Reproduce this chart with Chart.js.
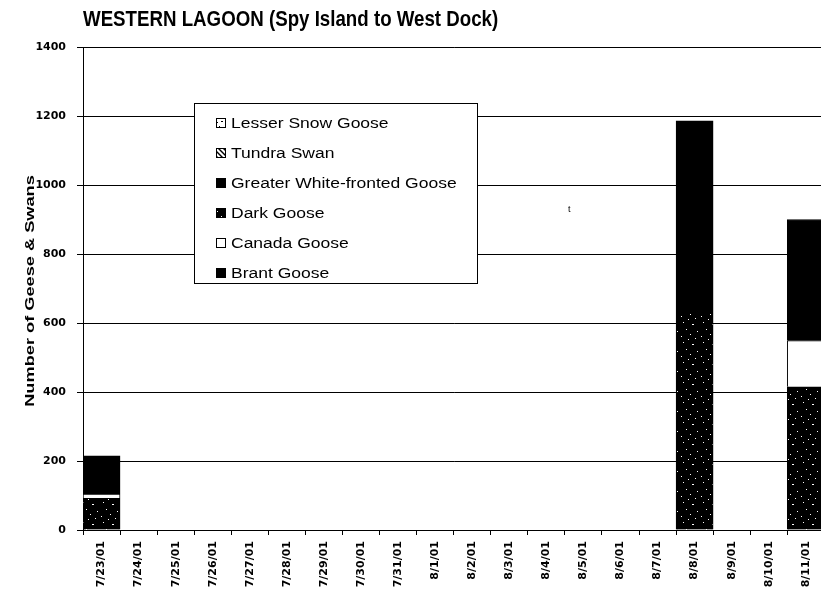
<!DOCTYPE html>
<html>
<head>
<meta charset="utf-8">
<title>Western Lagoon</title>
<script src="https://cdn.jsdelivr.net/npm/chart.js@4/dist/chart.umd.min.js"></script>
<style>
  html, body { margin: 0; padding: 0; background: #fff; overflow: hidden; }
  .wrap { position: relative; width: 825px; height: 604px; }
</style>
</head>
<body>
<div class="wrap"><canvas id="geese"></canvas></div>
<script>
// survey dates along the category axis
var dates = ['7/23/01','7/24/01','7/25/01','7/26/01','7/27/01','7/28/01','7/29/01','7/30/01','7/31/01','8/1/01',
             '8/2/01','8/3/01','8/4/01','8/5/01','8/6/01','8/7/01','8/8/01','8/9/01','8/10/01','8/11/01'];

// counts per species (stacked bottom to top in this order)
var lesserSnow   = [0,0,0,0,0,0,0,0,0,0,0,0,0,0,0,0,0,0,0,0];
var tundraSwan   = [0,0,0,0,0,0,0,0,0,0,0,0,0,0,0,0,0,0,0,0];
var whiteFronted = [0,0,0,0,0,0,0,0,0,0,0,0,0,0,0,0,0,0,0,0];
var darkGoose    = [92,0,0,0,0,0,0,0,0,0,0,0,0,0,0,0,628,0,0,415];
var canadaGoose  = [12,0,0,0,0,0,0,0,0,0,0,0,0,0,0,0,0,0,0,134];
var brantGoose   = [111,0,0,0,0,0,0,0,0,0,0,0,0,0,0,0,558,0,0,351];

var yTicks = [0, 200, 400, 600, 800, 1000, 1200, 1400];

function makePattern(bg, fg, dots, lines){
      var c = document.createElement('canvas');
      c.width = 20; c.height = 20;
      var g = c.getContext('2d');
      g.fillStyle = bg;
      g.fillRect(0, 0, 20, 20);
      g.fillStyle = fg;
      (dots || []).forEach(function(d){ g.fillRect(d[0], d[1], d[2] || 1, 1); });
      if(lines){
            g.strokeStyle = fg;
            g.lineWidth = 1.5;
            for(var k = -20; k < 40; k += 5){
                  g.beginPath(); g.moveTo(k, 0); g.lineTo(k + 20, 20); g.stroke();
            }
      }
      return g.createPattern(c, 'repeat');
}

// black with a few white flecks
var speckle = makePattern('#000', '#fff', [[3,2],[12,4,2],[17,11],[6,9],[1,16],[10,14],[15,18],[8,19]]);
var snowDots = makePattern('#fff', '#000', [[1,1,2],[5,3],[9,1],[13,4,2],[17,2],[3,7],[7,9,2],[11,7],
      [15,9],[19,6],[1,12],[5,14,2],[9,12],[13,15],[17,13,2],[3,18],[11,18],[15,19]]);
var hatch = makePattern('#fff', '#000', null, true);

var canvas = document.getElementById('geese');

var boxLegend = {
      id: 'boxLegend',
      afterDraw: function(chart){
            var ctx = chart.ctx;
            ctx.save();
            // legend panel
            ctx.fillStyle = '#fff';
            ctx.fillRect(194, 103, 283, 180);
            ctx.strokeStyle = '#000';
            ctx.lineWidth = 1;
            ctx.strokeRect(194.5, 103.5, 283, 180);
            ctx.font = '14px "Liberation Sans", Arial, sans-serif';
            ctx.textBaseline = 'middle';
            var sets = chart.data.datasets;
            for(var i = 0; i < sets.length; i++){
                  var y = 123 + i * 30;
                  ctx.fillStyle = sets[i].backgroundColor;
                  ctx.fillRect(216, y - 5, 10, 10);
                  ctx.strokeStyle = '#000';
                  ctx.strokeRect(216.5, y - 4.5, 9, 9);
                  ctx.save();
                  ctx.translate(231, y + 1);
                  ctx.scale(1.25, 1);
                  ctx.fillStyle = '#000';
                  ctx.fillText(sets[i].label, 0, 0);
                  ctx.restore();
            }
            // chart heading
            ctx.save();
            ctx.translate(83, 26);
            ctx.scale(0.85, 1);
            ctx.font = 'bold 22px "Liberation Sans", Arial, sans-serif';
            ctx.textBaseline = 'alphabetic';
            ctx.fillStyle = '#000';
            ctx.fillText('WESTERN LAGOON (Spy Island to West Dock)', 0, 0);
            ctx.restore();
            // value axis title
            ctx.save();
            ctx.translate(30, 291);
            ctx.rotate(-Math.PI / 2);
            ctx.scale(1.4, 1);
            ctx.font = 'bold 13px "Liberation Sans", Arial, sans-serif';
            ctx.textAlign = 'center';
            ctx.textBaseline = 'middle';
            ctx.fillStyle = '#000';
            ctx.fillText('Number of Geese & Swans', 0, 0);
            ctx.restore();
            ctx.font = '9px "Liberation Sans", Arial, sans-serif';
            ctx.fillStyle = '#000';
            ctx.fillText('t', 568, 210);
            ctx.restore();
      }
};

var chart = new Chart(canvas, {
      type: 'bar',
      data: {
            labels: dates,
            datasets: [
                  { label: 'Lesser Snow Goose', data: lesserSnow, backgroundColor: snowDots },
                  { label: 'Tundra Swan', data: tundraSwan, backgroundColor: hatch },
                  { label: 'Greater White-fronted Goose', data: whiteFronted, backgroundColor: '#000' },
                  { label: 'Dark Goose', data: darkGoose, backgroundColor: speckle },
                  { label: 'Canada Goose', data: canadaGoose, backgroundColor: '#fff' },
                  { label: 'Brant Goose', data: brantGoose, backgroundColor: '#000' }
            ].map(function(ds){
                  ds.borderColor = '#000';
                  ds.borderWidth = 1;
                  ds.barPercentage = 1;
                  ds.categoryPercentage = 1;
                  return ds;
            })
      },
      options: {
            responsive: true,
            maintainAspectRatio: false,
            animation: false,
            layout: { padding: { left: 0, right: 0, top: 47, bottom: 0 } },
            plugins: {
                  legend: { display: false },
                  tooltip: { enabled: false }
            },
            scales: {
                  x: {
                        stacked: true,
                        offset: true,
                        afterFit: function(scale){ scale.height = 74; },
                        grid: { offset: true, drawOnChartArea: false, drawTicks: true, tickLength: 5, color: '#000' },
                        border: { color: '#000', width: 1 },
                        ticks: {
                              autoSkip: false, minRotation: 90, maxRotation: 90, padding: 6,
                              color: '#000',
                              font: { family: '"DejaVu Sans"', size: 11, weight: 'bold' }
                        }
                  },
                  y: {
                        stacked: true,
                        min: 0,
                        max: 1400,
                        afterFit: function(scale){ scale.width = 83; },
                        afterBuildTicks: function(scale){
                              scale.ticks = yTicks.map(function(v){ return { value: v }; });
                        },
                        grid: { color: '#000', lineWidth: 1, tickLength: 6 },
                        border: { color: '#000', width: 1 },
                        ticks: {
                              padding: 11,
                              color: '#000',
                              callback: function(v){ return String(v); },
                              font: { family: '"DejaVu Sans"', size: 11, weight: 'bold' }
                        }
                  }
            }
      },
      plugins: [boxLegend]
});
</script>
</body>
</html>
